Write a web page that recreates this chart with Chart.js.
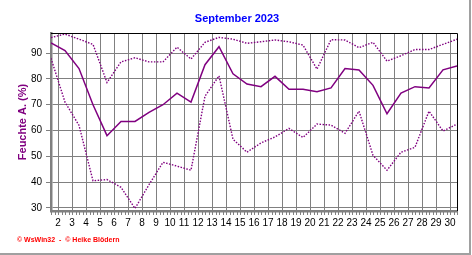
<!DOCTYPE html>
<html>
<head>
<meta charset="utf-8">
<script src="https://cdn.jsdelivr.net/npm/chart.js@4/dist/chart.umd.min.js"></script>
<style>
  html, body { margin: 0; padding: 0; background: #fff; }
</style>
</head>
<body>
<canvas id="myChart" width="472" height="255"></canvas>
<script>
// Tage im September, Werte jeweils Tagesmitte
const days = [1, 2, 3, 4, 5, 6, 7, 8, 9, 10, 11, 12, 13, 14, 15, 16, 17, 18, 19, 20, 21, 22, 23, 24, 25, 26, 27, 28, 29, 30]
// Feuchte Mittel / Max / Min (%)
const humMean = [94, 91, 84, 70, 58, 63.5, 63.5, 67, 70, 74.5, 71, 85.5, 92.5, 82, 78, 77, 81, 76, 76, 75, 76.5, 84, 83.5, 77.5, 66.5, 74.5, 77, 76.5, 83.5, 85]
const humMax = [96, 97.4, 95.4, 93.4, 78.6, 86.6, 88.2, 86.6, 86.6, 92.3, 87.7, 94.2, 96.1, 95.4, 93.8, 94.4, 95.1, 94.4, 93.1, 83.8, 95.2, 95.1, 92.1, 94.2, 86.9, 89, 91.4, 91.4, 93.4, 95.4]
const humMin = [88, 71, 62, 40.5, 41, 38, 29.8, 39, 47.7, 46.2, 44.6, 73.3, 81.2, 56.6, 51.6, 55.2, 57.5, 60.8, 57.3, 62.5, 62.1, 58.9, 67.5, 50.4, 44.6, 51.6, 53.5, 67.5, 59.8, 62.5]
// Achsenbeschriftung
const xTickLabels = ['2', '3', '4', '5', '6', '7', '8', '9', '10', '11', '12', '13', '14', '15', '16', '17', '18', '19', '20', '21', '22', '23', '24', '25', '26', '27', '28', '29', '30']
const yTicks = [30, 40, 50, 60, 70, 80, 90]

const PURPLE = '#800080'
const GRID = '#808080'
const FONT = '"Liberation Sans", Arial, sans-serif'

const toXY = (arr) => days.map((d, i) => ({ x: d, y: arr[i] }))

// Rahmen, Nebenstriche und Texte
const decor = {
  id: 'decor',
  afterDraw (chart) {
    const { ctx, chartArea: a, scales } = chart
    ctx.save()
    // schwarzer Rahmen oben und rechts
    ctx.strokeStyle = '#000'
    ctx.lineWidth = 1
    ctx.beginPath()
    ctx.moveTo(a.left, a.top + 0.5)
    ctx.lineTo(a.right + 0.5, a.top + 0.5)
    ctx.lineTo(a.right + 0.5, a.bottom)
    ctx.stroke()
    // Nebenstriche x-Achse (6 h)
    ctx.strokeStyle = GRID
    ctx.beginPath()
    for (let v = 1; v <= 30.001; v += 0.25) {
      const px = Math.round(scales.x.getPixelForValue(v)) + 0.5
      ctx.moveTo(px, a.bottom + 1)
      ctx.lineTo(px, a.bottom + 4)
    }
    ctx.stroke()
    // grauer Fensterrand
    ctx.strokeStyle = '#a0a0a0'
    ctx.lineWidth = 2
    ctx.beginPath()
    ctx.moveTo(470, 0)
    ctx.lineTo(470, 254)
    ctx.lineTo(0, 254)
    ctx.stroke()
    // Titel
    ctx.textAlign = 'center'
    ctx.textBaseline = 'middle'
    ctx.fillStyle = '#0000ff'
    ctx.font = 'bold 11px ' + FONT
    ctx.fillText('September 2023', 237, 19)
    // y-Achsentitel
    ctx.save()
    ctx.translate(22.5, 122)
    ctx.rotate(-Math.PI / 2)
    ctx.fillStyle = PURPLE
    ctx.font = 'bold 11px ' + FONT
    ctx.fillText('Feuchte A. (%)', 0, 0)
    ctx.restore()
    // Copyright
    ctx.textAlign = 'left'
    ctx.fillStyle = '#ff0000'
    ctx.font = 'bold 7px ' + FONT
    ctx.fillText('\u00a9 WsWin32  -  \u00a9 Heike Bl\u00f6dern', 17, 240.5)
    ctx.restore()
  }
}

const ctx = document.getElementById('myChart')
// eslint-disable-next-line no-unused-vars
const myChart = new Chart(ctx, {
  type: 'line',
  data: {
    datasets: [
      {
        label: 'Max',
        data: toXY(humMax),
        borderColor: PURPLE,
        borderWidth: 1.4,
        borderDash: [1.5, 1.5],
        pointRadius: 0,
        tension: 0
      },
      {
        label: 'Mittel',
        data: toXY(humMean),
        borderColor: PURPLE,
        borderWidth: 1.5,
        pointRadius: 0,
        tension: 0
      },
      {
        label: 'Min',
        data: toXY(humMin),
        borderColor: PURPLE,
        borderWidth: 1.4,
        borderDash: [1.5, 1.5],
        pointRadius: 0,
        tension: 0
      }
    ]
  },
  options: {
    responsive: false,
    devicePixelRatio: 1,
    animation: false,
    layout: { padding: { top: 33, right: 15, left: 0, bottom: 0 } },
    plugins: {
      legend: { display: false },
      tooltip: { enabled: false }
    },
    scales: {
      x: {
        type: 'linear',
        min: 1,
        max: 30,
        afterBuildTicks: (scale) => {
          scale.ticks = xTickLabels.map((t, i) => ({ value: i + 1.5 }))
        },
        afterFit: (scale) => { scale.height = 44 },
        ticks: {
          autoSkip: false,
          maxRotation: 0,
          padding: 6,
          color: '#000',
          font: { family: FONT, size: 10 },
          callback: (v, i) => xTickLabels[i]
        },
        grid: {
          color: GRID,
          borderDash: [4, 3],
          drawTicks: false
        },
        border: { color: GRID, width: 2.5, dash: [] }
      },
      y: {
        min: 28.8,
        max: 97.8,
        afterBuildTicks: (scale) => {
          scale.ticks = yTicks.map((v) => ({ value: v }))
        },
        afterFit: (scale) => { scale.width = 51 },
        ticks: {
          padding: 4,
          color: '#000',
          font: { family: FONT, size: 10 },
          callback: (v) => String(v)
        },
        grid: {
          color: GRID,
          borderDash: [4, 3],
          tickLength: 5,
          tickColor: GRID,
          tickBorderDash: []
        },
        border: { color: GRID, width: 2.5, dash: [] }
      }
    }
  },
  plugins: [decor]
})
</script>
</body>
</html>
